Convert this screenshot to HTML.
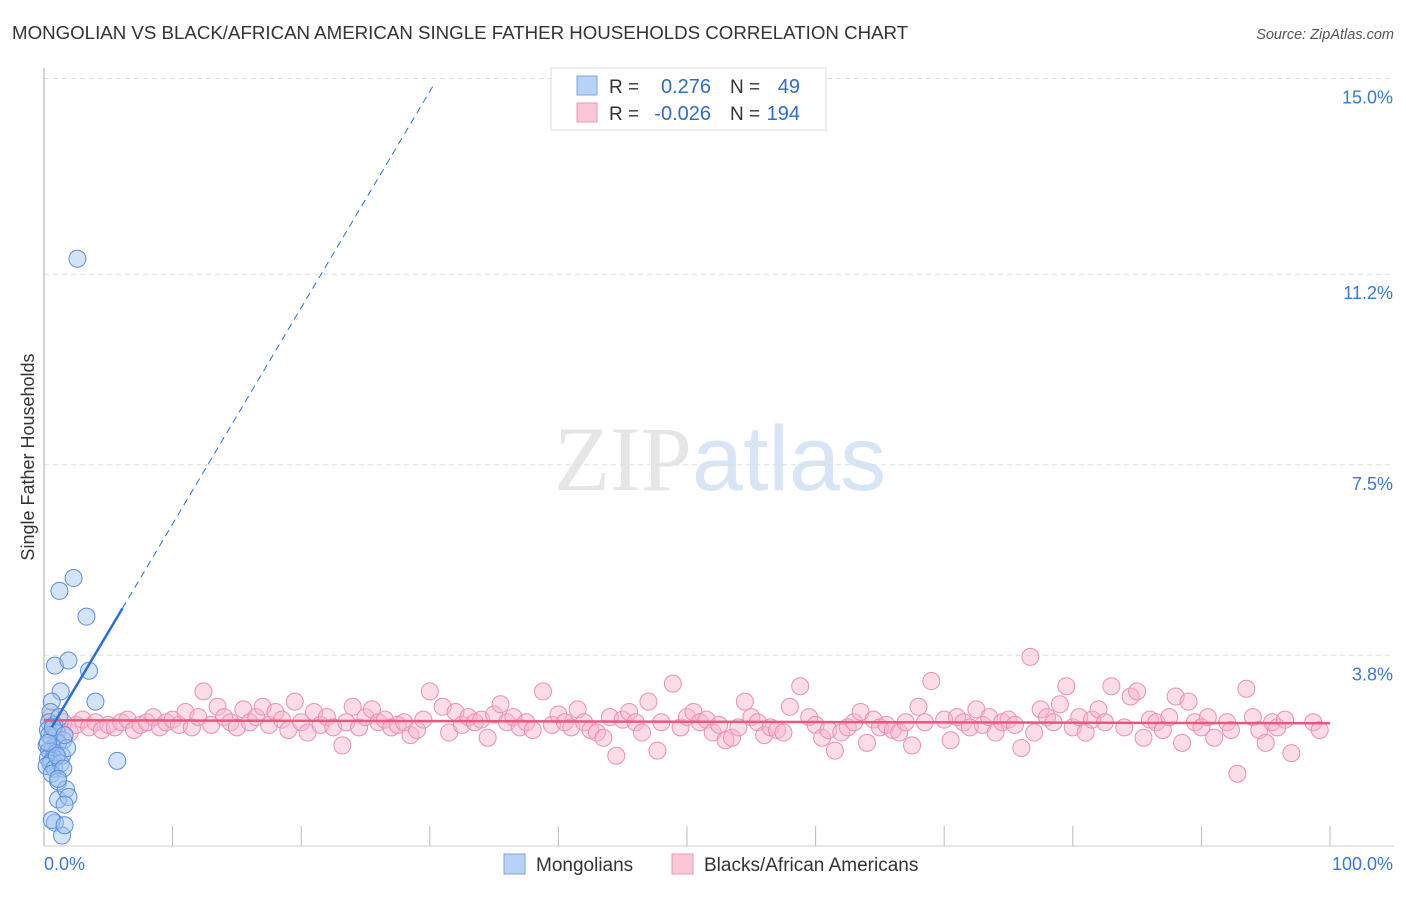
<!DOCTYPE html>
<html><head><meta charset="utf-8"><style>
body{margin:0;background:#fff;font-family:"Liberation Sans",sans-serif;}
svg text{font-family:"Liberation Sans",sans-serif;}
</style></head><body>
<svg id="chart" width="1406" height="892" xmlns="http://www.w3.org/2000/svg">
<text x="12" y="39" font-size="18.7" fill="#333">MONGOLIAN VS BLACK/AFRICAN AMERICAN SINGLE FATHER HOUSEHOLDS CORRELATION CHART</text>
<text x="1394" y="39" font-size="14.5" fill="#555" text-anchor="end" font-style="italic">Source: ZipAtlas.com</text>
<text x="720" y="490" font-size="92" text-anchor="middle"><tspan fill="#e6e6e6" font-family="Liberation Serif">ZIP</tspan><tspan fill="#d8e5f5">atlas</tspan></text>
<g id="grid"></g>
<g id="axes"></g>
<g id="pts"></g>
<g id="lines"></g>
<text transform="translate(34,457) rotate(-90)" font-size="18" fill="#333" text-anchor="middle">Single Father Households</text>
<g>
<rect x="551" y="68" width="275" height="62" fill="#fff" stroke="#ddd"/>
<rect x="577" y="76" width="20" height="19" fill="#b8d2f5" stroke="#7aa6e0"/>
<rect x="577" y="103" width="20" height="19" fill="#f9c7d6" stroke="#eb9ab5"/>
<text x="609" y="93" font-size="19" fill="#333">R =</text>
<text x="711" y="93" font-size="20" fill="#2f6cc7" text-anchor="end">0.276</text>
<text x="730" y="93" font-size="19" fill="#333">N =</text>
<text x="800" y="93" font-size="20" fill="#2f6cc7" text-anchor="end">49</text>
<text x="609" y="120" font-size="19" fill="#333">R =</text>
<text x="711" y="120" font-size="20" fill="#2f6cc7" text-anchor="end">-0.026</text>
<text x="730" y="120" font-size="19" fill="#333">N =</text>
<text x="800" y="120" font-size="20" fill="#2f6cc7" text-anchor="end">194</text>
</g>
<g>
<rect x="504" y="854" width="21" height="20" fill="#b8d2f5" stroke="#7aa6e0"/>
<text x="536" y="871" font-size="19" fill="#333">Mongolians</text>
<rect x="672" y="854" width="21" height="20" fill="#f9c7d6" stroke="#eb9ab5"/>
<text x="704" y="871" font-size="19" fill="#333">Blacks/African Americans</text>
</g>
</svg>
<script>
const NS="http://www.w3.org/2000/svg";
const yTicks=[3.8,7.5,11.2,15.0];
const yTickLabels=["3.8%","7.5%","11.2%","15.0%"];
const xTickLabels=["0.0%","100.0%"];
const blueX=[2.6,2.3,1.2,3.3,0.85,1.9,3.5,1.3,4.0,0.6,5.7,0.5,0.4,0.8,1.2,0.3,0.6,1.0,1.5,0.2,0.7,1.1,0.4,0.9,0.3,0.6,1.4,1.8,0.5,0.2,0.8,1.3,0.4,0.7,1.6,0.3,1.0,0.6,1.5,1.1,0.85,1.4,0.6,1.1,1.7,1.9,1.6,1.1,1.6];
const blueY=[11.5,5.3,5.05,4.55,3.6,3.7,3.5,3.1,2.9,2.9,1.75,2.7,2.5,2.45,2.6,2.35,2.2,2.3,2.15,2.05,2.0,2.1,1.95,1.9,1.8,1.75,1.85,2.0,1.7,1.65,1.6,1.7,2.25,2.4,2.25,2.1,1.85,1.5,1.6,1.35,0.55,0.3,0.6,1.0,1.2,1.05,0.9,1.4,0.5];
const pinkX=[0.5,1,1.5,2,2.5,3,3.5,4,4.5,5,5.5,6,6.5,7,7.5,8,8.5,9,9.5,10,10.5,11,11.5,12,12.4,13,13.5,14,14.5,15,15.5,16,16.5,17,17.5,18,18.5,19,19.5,20,20.5,21,21.5,22,22.5,23.2,23.5,24,24.5,25,25.5,26,26.5,27,27.5,28,28.5,29,29.5,30,31,31.5,32,32.5,33,33.5,34,34.5,35,35.5,36,36.5,37,37.5,38,38.8,39.5,40,40.5,41,41.5,42,42.5,43,43.5,44,44.5,45,45.5,46,46.5,47,47.7,48,48.9,49.5,50,50.5,51,51.5,52,52.5,53,53.5,54,54.5,55,55.5,56,56.5,57,57.5,58,58.8,59.5,60,60.5,61,61.5,62,62.5,63,63.5,64,64.5,65,65.5,66,66.5,67,67.5,68,68.5,69,70,70.5,71,71.5,72,72.5,73,73.5,74,74.5,75,75.5,76,76.7,77,77.5,78,78.5,79,79.5,80,80.5,81,81.5,82,82.5,83,84,84.5,85,85.5,86,86.5,87,87.5,88,88.5,89,89.5,90,90.5,91,92,92.3,92.8,93.5,94,94.5,95,95.5,95.9,96.5,97,98.7,99.2];
const pinkY=[2.6,2.4,2.5,2.3,2.45,2.55,2.4,2.5,2.35,2.45,2.4,2.5,2.55,2.35,2.45,2.5,2.6,2.4,2.5,2.55,2.45,2.7,2.4,2.6,3.1,2.45,2.8,2.6,2.5,2.4,2.75,2.5,2.6,2.8,2.45,2.7,2.55,2.35,2.9,2.5,2.3,2.7,2.45,2.6,2.4,2.05,2.5,2.8,2.4,2.6,2.75,2.5,2.55,2.4,2.45,2.5,2.25,2.35,2.55,3.1,2.8,2.3,2.7,2.45,2.6,2.5,2.55,2.2,2.65,2.85,2.5,2.6,2.4,2.5,2.35,3.1,2.45,2.65,2.5,2.4,2.75,2.5,2.35,2.3,2.2,2.6,1.85,2.55,2.7,2.5,2.3,2.9,1.95,2.5,3.25,2.4,2.6,2.7,2.5,2.55,2.3,2.45,2.15,2.2,2.4,2.9,2.6,2.5,2.25,2.4,2.35,2.3,2.8,3.2,2.6,2.45,2.2,2.35,1.95,2.3,2.4,2.5,2.7,2.1,2.55,2.4,2.45,2.35,2.3,2.5,2.05,2.8,2.5,3.3,2.55,2.15,2.6,2.5,2.4,2.75,2.45,2.6,2.3,2.5,2.55,2.45,2.0,3.77,2.3,2.75,2.6,2.5,2.85,3.2,2.4,2.6,2.3,2.55,2.75,2.5,3.2,2.4,3.0,3.1,2.2,2.55,2.5,2.35,2.6,3.0,2.1,2.9,2.5,2.4,2.6,2.2,2.5,2.35,1.5,3.15,2.6,2.35,2.1,2.5,2.4,2.55,1.9,2.5,2.35,1.6,3.0];
const X0=44,X1=1330;
function sx(v){return X0+(X1-X0)*v/100;}
function sy(v){return 851-51.5*v;}
const grid=document.getElementById('grid'),axes=document.getElementById('axes'),pts=document.getElementById('pts'),lines=document.getElementById('lines');
function mk(tag,attrs,parent){const e=document.createElementNS(NS,tag);for(const k in attrs)e.setAttribute(k,attrs[k]);parent.appendChild(e);return e;}
yTicks.forEach((t,i)=>{
 const l=mk('line',{x1:X0,x2:1394,y1:sy(t),y2:sy(t),stroke:'#ddd','stroke-dasharray':'5,4'},grid);
 
 
 const tx=mk('text',{x:1393,y:sy(t)+25,'font-size':18,fill:'#3a78d4','text-anchor':'end'},axes);
 tx.textContent=yTickLabels[i];
 
 
});
const ax=mk('line',{x1:X0,x2:X0,y1:68,y2:846,stroke:'#aaa'},axes);


const bx=mk('line',{x1:X0,x2:1394,y1:846,y2:846,stroke:'#ccc'},axes);


for(let i=1;i<=10;i++){const t=mk('line',{x1:sx(i*10),x2:sx(i*10),y1:826,y2:846,stroke:'#bbb'},axes);
 
 }
const xl0=mk('text',{x:44,y:870,'font-size':18,fill:'#3a78d4'},axes);xl0.textContent=xTickLabels[0];


const xl1=mk('text',{x:1393,y:870,'font-size':18,fill:'#3a78d4','text-anchor':'end'},axes);xl1.textContent=xTickLabels[1];


pinkX.forEach((x,i)=>{const c=mk('circle',{cx:sx(x),cy:sy(pinkY[i]),r:8.5,fill:'rgba(248,180,202,0.45)',stroke:'#ea90ae','stroke-width':1},pts);
 
 });
blueX.forEach((x,i)=>{const c=mk('circle',{cx:sx(x),cy:sy(blueY[i]),r:8.5,fill:'rgba(160,195,240,0.45)',stroke:'#5b8fd8','stroke-width':1},pts);
 
 });
const pa=2.54,pb=-0.0006;
const pl=mk('line',{x1:sx(0),y1:sy(pa),x2:sx(100),y2:sy(pa+pb*100),stroke:'#e8577f','stroke-width':2.5},lines);


const ba=2.15,bb=0.42;
const bl=mk('line',{x1:sx(0.6),y1:sy(ba+bb*0.6),x2:sx(6.1),y2:sy(ba+bb*6.1),stroke:'#2a6fd6','stroke-width':2.5},lines);


const bd=mk('line',{x1:sx(6.1),y1:sy(ba+bb*6.1),x2:sx(30.3),y2:sy(ba+bb*30.3),stroke:'#2a6fd6','stroke-width':1,'stroke-dasharray':'7,5'},lines);


</script>
</body></html>
